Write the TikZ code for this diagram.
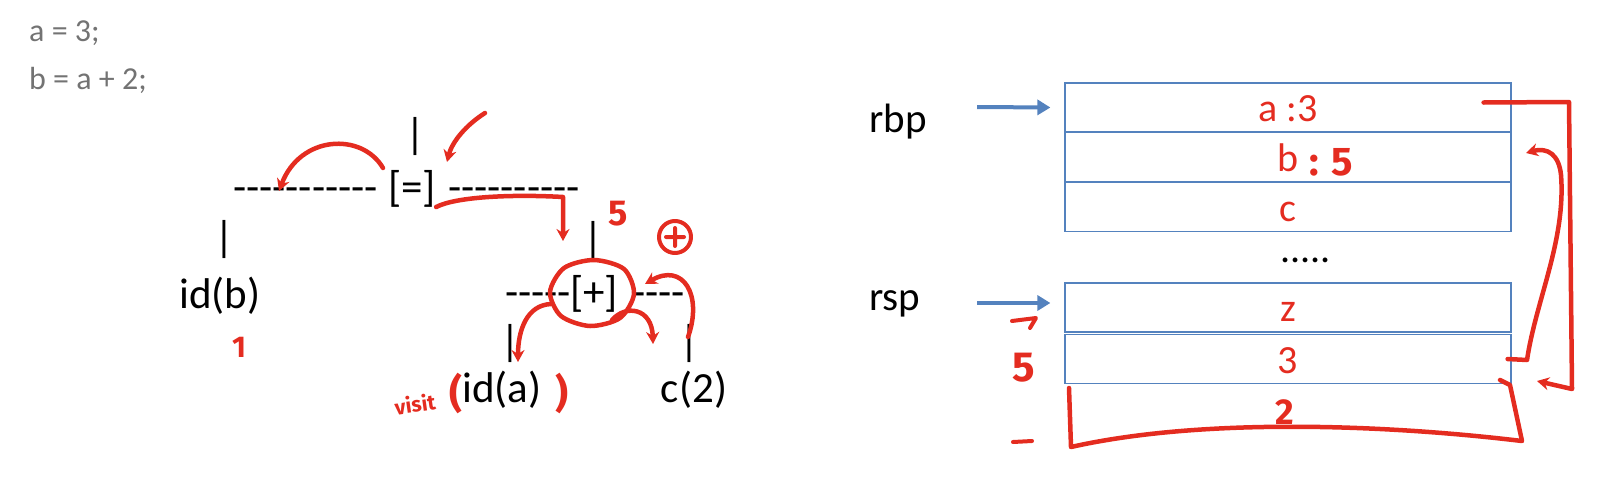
\documentclass[tikz,border=0pt]{standalone}
\usepackage{fontspec}
\setmainfont{Carlito}
\newfontfamily\handfont{Fira Sans}
\usetikzlibrary{arrows.meta,positioning}
\definecolor{codegray}{RGB}{115,115,115}
\definecolor{boxblue}{RGB}{84,130,190}
\definecolor{penred}{RGB}{228,44,32}
\newcommand\dashrow[1]{\foreach \k in {1,...,#1}{-}}

\begin{document}
\begin{tikzpicture}[x=1pt,y=-1pt,
        code/.style={anchor=base west,inner sep=0,text=codegray,font=\fontsize{32}{38}\selectfont},
        tree/.style={anchor=base,inner sep=0,font=\fontsize{43}{50}\selectfont},
        bar/.style={inner sep=0,font=\fontsize{43}{50}\selectfont},
        reg/.style={anchor=base west,inner sep=0,font=\fontsize{41}{48}\selectfont},
        cell/.style={draw=boxblue,line width=1.2pt,minimum width=446pt,minimum height=49pt,inner sep=0,
            text height=28pt,text depth=0pt,text=penred,font=\fontsize{40}{46}\selectfont},
        pen/.style={penred,line width=4.5pt,line cap=round,line join=round},
        penarrow/.style={pen,-{Stealth[length=12pt,width=13pt]}},
        scrawl/.style={text=penred,inner sep=0,font=\handfont\bfseries\fontsize{#1}{#1}\selectfont},
        ptr/.style={boxblue,line width=4pt,-{Triangle[length=13pt,width=15pt]}}]
        \useasboundingbox (0,0) rectangle (1614,490);
        \node[code] (line1) at (29,41) {a = 3;};
        \node[code] (line2) at (29,89) {b = a + 2;};

        \node[bar] (root) at (415,136) {|};
        \node[tree,anchor=base west] (eqleft) at (233,201) {\dashrow{11}};
        \node[tree] (eq) at (412,201) {[=]};
        \node[tree,anchor=base west] (eqright) at (448,201) {\dashrow{10}};
        \node[bar] (barb) at (224,239) {|};
        \node[tree] (idb) at (220,308) {id(b)};
        \node[bar] (barplus) at (593,240) {|};
        \node[tree,anchor=base west] (plusleft) at (505,306) {\dashrow{5}};
        \node[tree] (plus) at (594,306) {[+]};
        \node[tree,anchor=base west] (plusright) at (632,306) {\dashrow{4}};
        \node[bar] (bara) at (510,343) {|};
        \node[bar] (barc) at (689,343) {|};
        \node[tree] (ida) at (502,402) {id(a)};
        \node[tree] (ctwo) at (694,402) {c(2)};

        \draw[penarrow] (383,168) .. controls (362,132) and (300,135) .. (279,191);
        \draw[penarrow] (485,113) .. controls (466,125) and (452,142) .. (447,162);
        \draw[penarrow] (eq.south east) .. controls (455,197) and (510,194) .. (563,197) -- (563,241);
        \node[scrawl=36] (five) at (618,214) {5};
        \draw[pen,line width=4pt] (675,237) circle[radius=16pt] (666,237) -- (684,237) (675,228) -- (675,246);
        \draw[pen] plot[smooth cycle] coordinates {(550,292) (564,268) (594,260) (624,269) (634,294) (620,318) (590,326) (561,316)};
        \draw[penarrow] (551,304) .. controls (527,305) and (518,330) .. (518,362);
        \draw[penarrow] (612,320) .. controls (626,304) and (652,308) .. (653,344);
        \draw[penarrow] (688,337) .. controls (703,295) and (683,262) .. (645,284);
        \node[scrawl=30] (one) at (239,347) {1};
        \node[scrawl=21,rotate=8] (visit) at (415,404) {visit};
        \node[scrawl=40] (lparen) at (456,393) {(};
        \node[scrawl=40] (rparen) at (562,393) {)};

        \node[reg] (rbp) at (869,132) {rbp};
        \node[reg] (rsp) at (869,310) {rsp};
        \foreach \n/\y/\t in {cella/107.5/{a :3}, cellb/157/b, cellc/207/c, cellz/307.5/z, cellt/359/3}
            \node[cell] (\n) at (1288,\y) {\t};
        \node[reg,font=\fontsize{40}{46}\selectfont] (gap) at (1280,262) {.....};
        \coordinate (rbptail) at (977,107);
        \coordinate (rsptail) at (977,303);
        \draw[ptr] (rbptail) -- ([xshift=-14pt]cella.west);
        \draw[ptr] (rsptail) -- ([xshift=-14pt,yshift=4.5pt]cellz.west);

        \node[scrawl=40,anchor=west] (bval) at (1309,162) {: 5};
        \draw[penarrow] ([xshift=-28pt,yshift=5pt]cella.east) -- (1569,102) -- (1572,389) -- (1537,381);
        \draw[penarrow] ([xshift=-4pt]cellt.east) -- (1527,360) .. controls (1536,300) and (1566,240) .. (1561,175)
            .. controls (1559,155) and (1548,147) .. (1526,153);
        \draw[pen] (1069,388) -- (1071,447) .. controls (1200,418) and (1380,424) .. (1522,441) -- (1510,385) -- (1500,380);
        \node[scrawl=36] (two) at (1285,412) {2};
        \node[scrawl=42] (fivemark) at (1024,368) {5};
        \draw[pen,line width=4pt] (1012,321) -- (1036,318) -- (1030,328);
        \draw[pen,line width=4pt] (1013,442) -- (1032,441);
\end{tikzpicture}
\end{document}
